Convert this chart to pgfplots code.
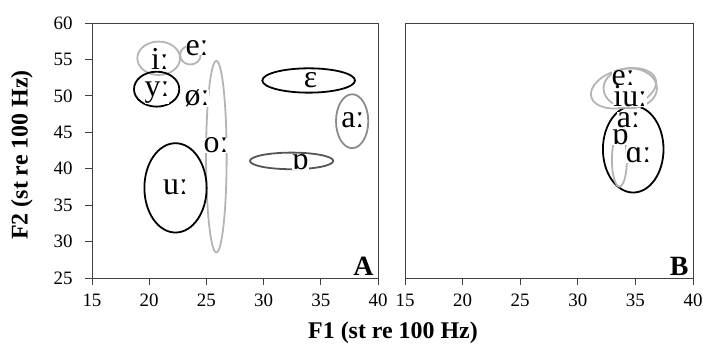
\documentclass[border=0pt]{standalone}
\usepackage{fontspec}
\setmainfont{Liberation Serif}
\usepackage{pgfplots}
\pgfplotsset{compat=1.18}
\definecolor{axcol}{HTML}{404040}
\definecolor{lgrey}{HTML}{B4B4B4}
\definecolor{mgrey}{HTML}{8C8C8C}
\definecolor{dgrey}{HTML}{555555}
\newcommand{\lng}{ː}
\tikzset{vl/.style={font=\fontsize{32}{32}\selectfont, fill=white, inner sep=0pt}}
\begin{document}
\begin{tikzpicture}
\useasboundingbox (-92bp,-75bp) rectangle (611bp,278bp);
\pgfplotsset{
 panel/.style={scale only axis, width=286bp, height=255bp,
   xmin=15, xmax=40, ymin=25, ymax=60, xtick={15,20,...,40},
   axis line style={axcol, line width=0.9pt}, tick style={axcol, line width=0.9pt},
   tick align=outside, major tick length=7bp, xtick pos=bottom, ytick pos=left,
   tick label style={font=\fontsize{19}{19}\selectfont},
   xticklabel style={yshift=-5bp}, yticklabel style={xshift=-9bp},
   /pgf/number format/assume math mode=true, clip=false, anchor=south west},
}
\begin{axis}[panel, at={(0bp,0bp)}, ytick={25,30,...,60}]
\draw[lgrey, line width=1.8pt] (axis cs:20.83,55.16) ellipse [x radius=1.87, y radius=2.29];
\draw[lgrey, line width=1.8pt] (axis cs:23.6,55.6) ellipse [x radius=0.9, y radius=1.3];
\draw[black, line width=1.8pt] (axis cs:20.65,50.92) ellipse [x radius=1.98, y radius=2.40];
\draw[lgrey, line width=1.8pt] (axis cs:25.87,41.65) ellipse [x radius=0.90, y radius=13.15];
\draw[black, line width=1.8pt] (axis cs:22.30,37.37) ellipse [x radius=2.72, y radius=6.13];
\draw[black, line width=1.8pt] (axis cs:33.94,52.11) ellipse [x radius=4.05, y radius=1.67];
\draw[mgrey, line width=1.8pt] (axis cs:37.74,46.52) ellipse [x radius=1.41, y radius=3.70];
\draw[dgrey, line width=1.8pt] (axis cs:32.45,41.07) ellipse [x radius=3.64, y radius=1.14];
\node[vl] at (axis cs:20.94,55.0) {i\lng};
\node[vl] at (axis cs:24.18,56.6) {e\lng};
\node[vl] at (axis cs:20.68,50.4) {y\lng};
\node[vl] at (axis cs:24.18,49.7) {ø\lng};
\node[vl] at (axis cs:25.84,43.2) {o\lng};
\node[vl] at (axis cs:22.3,37.5) {u\lng};
\node[vl] at (axis cs:34.1,52.2) {ɛ};
\node[vl] at (axis cs:37.8,46.7) {a\lng};
\node[vl] at (axis cs:33.2,40.9) {ɒ};
\node[anchor=south east, inner sep=0pt, font=\bfseries\fontsize{28}{28}\selectfont] at (rel axis cs:0.985,0.01) {A};
\end{axis}
\begin{axis}[panel, at={(313bp,0bp)}, width=288bp, ytick=\empty]
\draw[black, line width=1.8pt] (axis cs:34.81,42.67) ellipse [x radius=2.63, y radius=5.94];
\draw[lgrey, line width=1.8pt, rotate around={15:(axis cs:33.97,51.04)}] (axis cs:33.97,51.04) ellipse [x radius=2.9, y radius=2.6];
\draw[lgrey, line width=1.8pt] (axis cs:34.55,51.04) ellipse [x radius=2.32, y radius=2.74];
\draw[lgrey, line width=1.8pt] (axis cs:33.61,41.2) ellipse [x radius=0.65, y radius=3.66];
\node[vl] at (axis cs:33.94,52.4) {e\lng};
\node[vl] at (axis cs:34.55,50.0) {iu\lng};
\node[vl] at (axis cs:34.40,46.7) {a\lng};
\node[vl] at (axis cs:33.68,44.3) {ɒ};
\node[vl] at (axis cs:35.27,41.9) {ɑ\lng};
\node[anchor=south east, inner sep=0pt, font=\bfseries\fontsize{28}{28}\selectfont] at (rel axis cs:0.985,0.01) {B};
\end{axis}
\node[font=\bfseries\fontsize{24}{24}\selectfont] at (301bp,-55bp) {F1 (st re 100 Hz)};
\node[rotate=90, font=\bfseries\fontsize{24}{24}\selectfont] at (-70bp,123bp) {F2 (st re 100 Hz)};
\end{tikzpicture}
\end{document}
